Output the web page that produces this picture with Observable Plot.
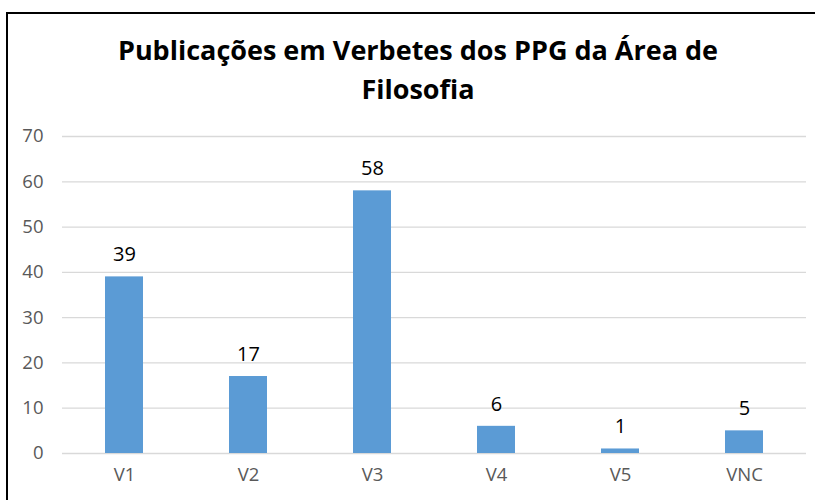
<!DOCTYPE html>
<html><head><meta charset="utf-8">
<script src="https://cdn.jsdelivr.net/npm/d3@7"></script>
<script src="https://cdn.jsdelivr.net/npm/@observablehq/plot@0.6"></script>
<style>
body{margin:0;background:#fff;}
#wrap{position:relative;width:815px;height:500px;overflow:hidden;background:#fff;}
#frame{position:absolute;left:6px;top:12px;width:900px;height:600px;border:2px solid #000;box-sizing:border-box;}
#title{position:absolute;left:0;top:30px;width:836px;text-align:center;font-family:"Open Sans",sans-serif;font-weight:bold;font-size:27px;line-height:39px;color:#000;}
#chart{position:absolute;left:0;top:0;}
</style></head>
<body><div id="wrap"><div id="frame"></div><div id="chart"></div>
<div id="title">Publicações em Verbetes dos PPG da Área de<br>Filosofia</div></div>
<script>
const categories = ["V1","V2","V3","V4","V5","VNC"];
const values = [39,17,58,6,1,5];
const yTicks = [0,10,20,30,40,50,60,70];
const data = categories.map((c,i)=>({cat:c, v:values[i]}));
const chart = Plot.plot({
  width:815, height:500,
  marginTop:136, marginBottom:47, marginLeft:62, marginRight:9,
  style:{fontFamily:"'Open Sans', sans-serif", background:"transparent"},
  x:{domain:categories, paddingInner:0.69, paddingOuter:0.345, label:null, axis:null},
  y:{domain:[0,70], label:null, axis:null},
  marks:[
    Plot.gridY(yTicks,{stroke:"#d9d9d9", strokeOpacity:1, strokeWidth:1.3}),
    Plot.barY(data,{x:"cat", y:"v", fill:"#5B9BD5"}),
    Plot.text(data,{x:"cat", y:"v", text:d=>String(d.v), dy:-22, fontSize:20, fill:"#000"}),
    Plot.text(yTicks,{y:d=>d, text:d=>String(d), frameAnchor:"left", textAnchor:"end", dx:-19, fontSize:18.5, fill:"#595959"}),
    Plot.text(categories,{x:d=>d, text:d=>d, frameAnchor:"bottom", lineAnchor:"top", dy:14, fontSize:18.5, fill:"#595959"})
  ]
});
document.getElementById("chart").appendChild(chart);
</script></body></html>
